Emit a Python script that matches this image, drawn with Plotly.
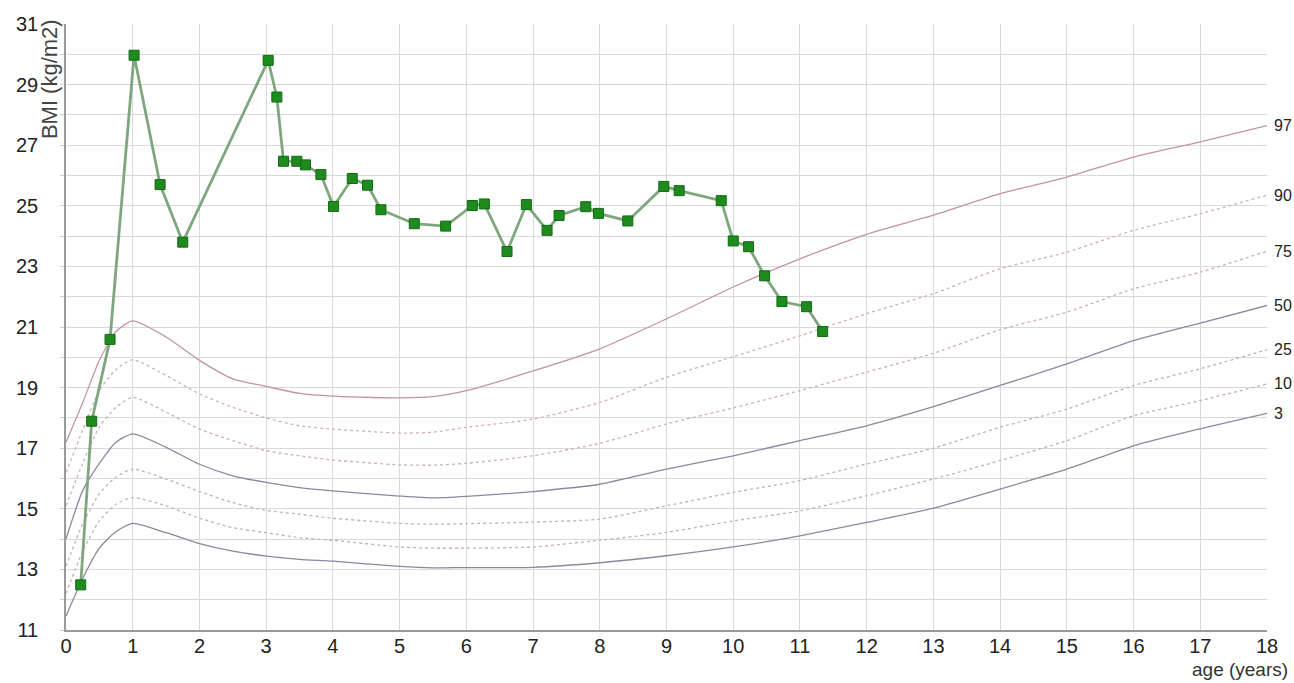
import plotly.graph_objects as go

# Patient measurements (age in years, BMI kg/m2)
patient_age = [0.22, 0.385, 0.66, 1.02, 1.41, 1.75, 3.03, 3.16, 3.26, 3.46, 3.59, 3.82,
               4.01, 4.29, 4.52, 4.72, 5.22, 5.69, 6.09, 6.27, 6.61, 6.90, 7.21, 7.39,
               7.79, 7.98, 8.42, 8.96, 9.19, 9.82, 10.0, 10.23, 10.47, 10.73, 11.10, 11.34]
patient_bmi = [12.49, 17.89, 20.59, 29.97, 25.70, 23.80, 29.80, 28.59, 26.47, 26.47, 26.35, 26.03,
               24.98, 25.90, 25.68, 24.87, 24.41, 24.33, 25.01, 25.06, 23.49, 25.04, 24.19, 24.68,
               24.97, 24.75, 24.50, 25.64, 25.50, 25.17, 23.84, 23.65, 22.69, 21.84, 21.67, 20.85]

# Reference percentile curves
ref_age = [0, 0.25, 0.5, 0.75, 1, 1.5, 2, 2.5, 3, 3.5, 4, 5, 5.5, 6, 7, 8, 9, 10, 11, 12, 13, 14, 15, 16, 17, 18]
p97 = [17.2, 18.5, 19.9, 20.85, 21.2, 20.67, 19.9, 19.29, 19.04, 18.81, 18.72, 18.66, 18.7, 18.9, 19.55, 20.28, 21.27, 22.32, 23.25, 24.06, 24.69, 25.40, 25.95, 26.61, 27.11, 27.65]
p90 = [16.2, 17.6, 18.9, 19.6, 19.92, 19.4, 18.79, 18.35, 18.0, 17.74, 17.63, 17.5, 17.53, 17.69, 17.96, 18.51, 19.34, 20.02, 20.71, 21.44, 22.10, 22.92, 23.47, 24.19, 24.74, 25.35]
p75 = [15.1, 16.5, 17.7, 18.35, 18.68, 18.19, 17.63, 17.25, 16.92, 16.75, 16.61, 16.45, 16.44, 16.5, 16.75, 17.16, 17.80, 18.33, 18.90, 19.51, 20.13, 20.91, 21.49, 22.26, 22.81, 23.5]
p50 = [14.0, 15.6, 16.5, 17.2, 17.47, 17.03, 16.47, 16.09, 15.87, 15.70, 15.59, 15.42, 15.36, 15.41, 15.57, 15.81, 16.31, 16.75, 17.25, 17.74, 18.37, 19.07, 19.78, 20.55, 21.13, 21.71]
p25 = [13.1, 14.5, 15.5, 16.05, 16.31, 15.98, 15.57, 15.2, 14.95, 14.82, 14.69, 14.52, 14.49, 14.51, 14.56, 14.66, 15.10, 15.54, 15.93, 16.48, 17.0, 17.69, 18.29, 19.07, 19.62, 20.25]
p10 = [12.2, 13.6, 14.6, 15.15, 15.37, 15.1, 14.69, 14.38, 14.21, 14.05, 13.96, 13.74, 13.70, 13.70, 13.74, 13.96, 14.22, 14.60, 14.93, 15.43, 15.98, 16.59, 17.25, 18.07, 18.57, 19.12]
p3 = [11.46, 12.7, 13.7, 14.25, 14.52, 14.21, 13.85, 13.6, 13.44, 13.33, 13.27, 13.1, 13.05, 13.06, 13.07, 13.22, 13.45, 13.74, 14.11, 14.55, 15.02, 15.65, 16.31, 17.08, 17.64, 18.15]

percentiles = [
    ("97", p97, "#c4949f", "solid"),
    ("90", p90, "#cfaebe", "dot"),
    ("75", p75, "#cbadbc", "dot"),
    ("50", p50, "#8a87a3", "solid"),
    ("25", p25, "#c4aebf", "dot"),
    ("10", p10, "#c4aebf", "dot"),
    ("3", p3, "#8a87a3", "solid"),
]

x_ticks = list(range(0, 19))
y_ticks = list(range(11, 32, 2))
FONT = "Liberation Sans, Arial, sans-serif"

fig = go.Figure()

for name, vals, col, dash in percentiles:
    fig.add_trace(go.Scatter(
        x=ref_age, y=vals, mode="lines", name=name,
        line=dict(color=col, width=1.3, dash=dash, shape="spline", smoothing=0.6),
        hoverinfo="skip", showlegend=False))

fig.add_trace(go.Scatter(
    x=patient_age, y=patient_bmi, mode="lines+markers", showlegend=False,
    line=dict(color="#7fa77f", width=2.8),
    marker=dict(symbol="square", size=10, color="#1f8b1f",
                line=dict(color="#0f6a0f", width=1))))

for name, vals, col, dash in percentiles:
    fig.add_annotation(x=1.004, xref="paper", y=vals[-1], yref="y",
                       text=name, showarrow=False, xanchor="left", yanchor="middle",
                       font=dict(size=16, color="#222", family=FONT))

fig.add_annotation(x=-0.0135, xref="paper", y=1.011, yref="paper",
                   text="BMI (kg/m2)", textangle=-90, showarrow=False,
                   xanchor="center", yanchor="top",
                   font=dict(size=22, color="#444", family=FONT))

fig.add_annotation(x=1.019, xref="paper", y=-0.066, yref="paper",
                   text="age (years)", showarrow=False,
                   xanchor="right", yanchor="middle",
                   font=dict(size=19, color="#333", family=FONT))

fig.update_layout(
    width=1294, height=683,
    margin=dict(l=66, r=27, t=24, b=53, autoexpand=False),
    paper_bgcolor="white", plot_bgcolor="white",
    font=dict(family=FONT, size=20, color="#222"),
    xaxis=dict(range=[0, 18], tickvals=x_ticks, ticktext=[str(v) for v in x_ticks],
               showgrid=True, gridcolor="#d9d9d9", gridwidth=1,
               showline=True, linecolor="#9a9a9a", linewidth=1.5,
               zeroline=False, ticks="", automargin=False, ticklabelstandoff=-3,
               tickfont=dict(size=20, color="#222", family=FONT)),
    yaxis=dict(range=[11, 31], tickvals=y_ticks, ticktext=[str(v) for v in y_ticks],
               showgrid=True, gridcolor="#d9d9d9", gridwidth=1,
               minor=dict(dtick=1, tick0=11, showgrid=True, gridcolor="#d9d9d9",
                          ticks="outside", ticklen=4, tickcolor="#d0d0d0"),
               showline=True, linecolor="#9a9a9a", linewidth=1.5,
               zeroline=False, ticks="outside", ticklen=4, tickcolor="#d0d0d0",
               ticklabelstandoff=18, automargin=False,
               tickfont=dict(size=20, color="#222", family=FONT)),
)

fig.write_html("out.html", config={"displayModeBar": False},
               post_script="document.body.style.margin='0';document.body.style.padding='0';")
